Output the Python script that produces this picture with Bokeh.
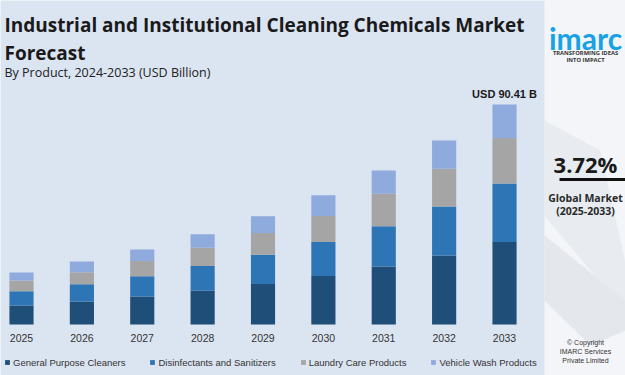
from bokeh.plotting import figure
from bokeh.models import (Range1d, Label, BoxAnnotation, PolyAnnotation,
                          Legend, LegendItem, ColumnDataSource)
from bokeh.embed import file_html
from bokeh.resources import INLINE

# ---------------- data ----------------
years = [2025, 2026, 2027, 2028, 2029, 2030, 2031, 2032, 2033]
general_purpose = [7.8, 9.45, 11.5, 14.0, 16.6, 19.9, 23.8, 28.4, 33.9]
disinfectants = [5.9, 7.1, 8.35, 10.0, 12.1, 14.0, 16.6, 20.1, 24.0]
laundry = [4.4, 4.9, 6.2, 7.55, 8.9, 10.7, 13.3, 15.5, 18.7]
vehicle_wash = [3.3, 4.4, 4.8, 5.5, 6.9, 8.5, 9.6, 11.6, 13.81]
series_names = ["General Purpose Cleaners", "Disinfectants and Sanitizers",
                "Laundry Care Products", "Vehicle Wash Products"]
tick_labels = [str(y) for y in years]
title_line1 = "Industrial and Institutional Cleaning Chemicals Market"
title_line2 = "Forecast"
subtitle = "By Product, 2024-2033 (USD Billion)"
cagr = "3.72%"
cagr_label = ["Global Market", "(2025-2033)"]

# ---------------- styles ----------------
BG = "#dbe4f1"
COLORS = ["#1f4e79", "#2e75b6", "#a5a5a5", "#8faadc"]
H = 375
BASE = 324          # pixel row of the bar baseline
PX = 0.41096        # value units per pixel
PANEL_CX = 585

def sy(px_from_top):
    return H - px_from_top

p = figure(width=625, height=H, output_backend="svg", toolbar_location=None,
           x_range=Range1d(2024.652, 2035.004),
           y_range=Range1d(-(H - BASE) * PX, BASE * PX),
           x_axis_location=None, y_axis_location=None, min_border=0,
           background_fill_color=BG, border_fill_color=BG, outline_line_color=None)
p.xgrid.visible = False
p.ygrid.visible = False

data = dict(year=years, g=general_purpose, d=disinfectants, l=laundry, v=vehicle_wash)
rs = p.vbar_stack(["g", "d", "l", "v"], x="year", width=0.4, color=COLORS,
                  line_color=None, source=data)

# category (year) labels under the bars
tick_src = ColumnDataSource(dict(x=years, y=[0] * len(years), t=tick_labels))
p.text(x="x", y="y", text="t", source=tick_src, y_offset=9, text_align="center",
       text_baseline="top", text_font={"value": "Liberation Sans"}, text_font_size="10.5px",
       text_color="#333333")

legend = Legend(items=[LegendItem(label=n, renderers=[r]) for n, r in zip(series_names, rs)],
                orientation="horizontal", location=(4, 7),
                background_fill_alpha=0, border_line_color=None,
                label_text_font="Liberation Sans", label_text_font_size="9.5px",
                label_text_color="#333333", glyph_width=6, glyph_height=6,
                label_standoff=3, spacing=24, padding=0, margin=0, label_height=12)
p.add_layout(legend)

# total label above the last bar
total_last = general_purpose[-1] + disinfectants[-1] + laundry[-1] + vehicle_wash[-1]
p.add_layout(Label(x=years[-1], y=total_last, y_offset=11, text=f"USD {total_last:.2f} B",
                   text_align="center", text_baseline="alphabetic",
                   text_font="Liberation Sans", text_font_style="bold",
                   text_font_size="11px", text_color="#1a1a1a"))

# titles
def title_text(x, y, text, size, bold=True, color="#1a1a1a"):
    p.add_layout(Label(x=x, y=sy(y), x_units="screen", y_units="screen", text=text,
                       text_align="left", text_baseline="alphabetic", text_font="Open Sans",
                       text_font_style="bold" if bold else "normal",
                       text_font_size=size, text_color=color))

title_text(4, 24, title_line1, "19px")
title_text(4, 52, title_line2, "19px")
title_text(4, 72, subtitle, "12.5px", bold=False, color="#222222")

# right-hand panel
p.add_layout(BoxAnnotation(left=544, right=700, top=sy(-10), bottom=sy(400),
                           left_units="screen", right_units="screen",
                           top_units="screen", bottom_units="screen",
                           fill_color="#f3f5f8", fill_alpha=1, line_color=None, level="overlay"))
p.add_layout(PolyAnnotation(xs=[544, 600, 640, 544], ys=[sy(120), sy(150), sy(330), sy(215)],
                            xs_units="screen", ys_units="screen",
                            fill_color="#e8ecf1", fill_alpha=1, line_color=None, level="overlay"))
p.add_layout(PolyAnnotation(xs=[544, 625, 625, 590, 544], ys=[sy(235), sy(300), sy(330), sy(345), sy(300)],
                            xs_units="screen", ys_units="screen",
                            fill_color="#e4e8ed", fill_alpha=1, line_color=None, level="overlay"))

def panel_text(y, text, size, color="#1a1a1a", bold=True, font="Open Sans", x=PANEL_CX, align="center"):
    p.add_layout(Label(x=x, y=sy(y), x_units="screen", y_units="screen", text=text,
                       text_align=align, text_baseline="alphabetic", text_font=font,
                       text_font_style="bold" if bold else "normal",
                       text_font_size=size, text_color=color, level="overlay"))

panel_text(37, "imarc", "30px", color="#17a2e6", font="Lato")
panel_text(52, "TRANSFORMING IDEAS", "5.8px", color="#333333")
panel_text(59, "INTO IMPACT", "5.8px", color="#333333")
panel_text(163, cagr, "22px", color="#1a1a1a")
p.add_layout(BoxAnnotation(left=559, right=640, top=sy(177.5), bottom=sy(180.5),
                           left_units="screen", right_units="screen",
                           top_units="screen", bottom_units="screen",
                           fill_color="#111111", fill_alpha=1, line_color=None, level="overlay"))
panel_text(197, cagr_label[0], "10.5px", color="#2a2a2a")
panel_text(210, cagr_label[1], "10.5px", color="#2a2a2a")
panel_text(342, "\u00a9 Copyright", "7px", color="#333333", bold=False, font="Liberation Sans")
panel_text(351, "IMARC Services", "7px", color="#333333", bold=False, font="Liberation Sans")
panel_text(360, "Private Limited", "7px", color="#333333", bold=False, font="Liberation Sans")

open("out.html", "w").write(file_html(p, INLINE))
